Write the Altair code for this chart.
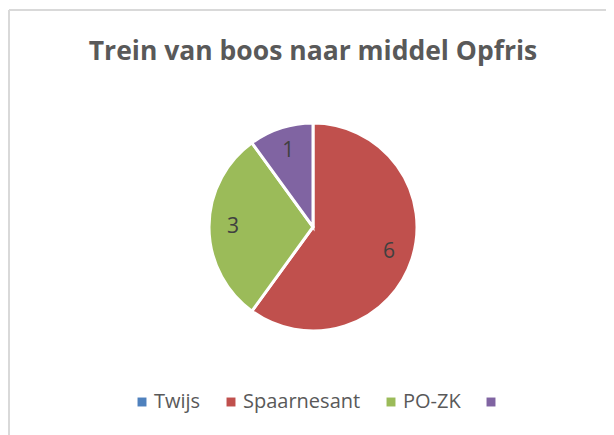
import altair as alt
import pandas as pd

title_text = "Trein van boos naar middel Opfris"
categories = ["Twijs", "Spaarnesant", "PO-ZK", ""]
values = [0, 6, 3, 1]
colors = ["#4F81BD", "#C0504D", "#9BBB59", "#8064A2"]

df = pd.DataFrame({"cat": categories, "value": values, "order": list(range(len(categories)))})
tdf = pd.DataFrame({"t": [title_text]})

CX, CY = 305, 219  # pie centre within the view

base = alt.Chart(df).encode(
    theta=alt.Theta("value:Q", stack=True),
    order=alt.Order("order:Q"),
)

pie = base.mark_arc(outerRadius=104, stroke="white", strokeWidth=3).encode(
    x=alt.value(CX),
    y=alt.value(CY),
    color=alt.Color(
        "cat:N",
        scale=alt.Scale(domain=categories, range=colors),
        sort=categories,
        legend=alt.Legend(
            orient="none",
            legendX=124,
            legendY=384,
            direction="horizontal",
            title=None,
            symbolType="square",
            symbolSize=80,
            symbolStrokeWidth=0,
            labelFontSize=20,
            labelFont="Open Sans",
            labelColor="#595959",
            labelOffset=2,
            columnPadding=20,
        ),
    ),
)

labels = base.transform_filter("datum.value > 0").mark_text(
    radius=80, fontSize=21, font="Open Sans", color="#404040"
).encode(text="value:Q", x=alt.value(CX), y=alt.value(CY))

title = alt.Chart(tdf).mark_text(
    fontSize=26.5, font="Open Sans", fontWeight="bold", color="#595959",
    baseline="alphabetic", align="center"
).encode(text="t:N", x=alt.value(305), y=alt.value(52))

frame_left = alt.Chart(tdf).mark_rule(color="#D9D9D9", strokeWidth=2).encode(
    x=alt.value(1), y=alt.value(2), y2=alt.value(427)
)
frame_top = alt.Chart(tdf).mark_rule(color="#D9D9D9", strokeWidth=2).encode(
    x=alt.value(1), x2=alt.value(598), y=alt.value(2)
)

chart = alt.layer(frame_left, frame_top, pie, labels, title).properties(
    width=598, height=427, padding=0,
    autosize=alt.AutoSizeParams(type="none"),
).configure_view(strokeWidth=0)

chart.save("out.html", embed_options={"renderer": "svg", "actions": False})
